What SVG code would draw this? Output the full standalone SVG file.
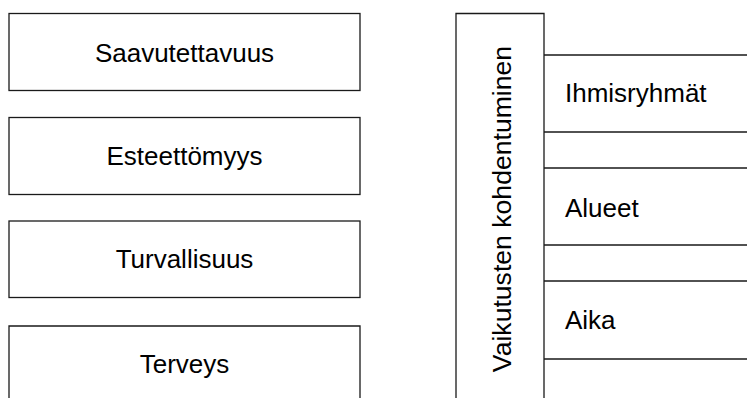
<svg xmlns="http://www.w3.org/2000/svg" width="747" height="398" viewBox="0 0 747 398">
  <style>
    .box { fill: #fff; stroke: #1a1a1a; stroke-width: 1.3; }
    .line { fill: none; stroke: #1a1a1a; stroke-width: 1.3; }
    .label { font-family: "Liberation Sans", Arial, sans-serif; font-size: 26px; fill: #000; }
    .mid { text-anchor: middle; }
  </style>
  <rect width="747" height="398" fill="#fff"/>

  <!-- left column of boxes -->
  <g id="saavutettavuus">
    <rect class="box" x="9" y="13.5" width="351" height="77"/>
    <text class="label mid" x="184.5" y="61.5">Saavutettavuus</text>
  </g>
  <g id="esteettomyys">
    <rect class="box" x="9" y="117.5" width="351" height="77"/>
    <text class="label mid" x="184.5" y="165">Esteettömyys</text>
  </g>
  <g id="turvallisuus">
    <rect class="box" x="9" y="221" width="351" height="76.5"/>
    <text class="label mid" x="184.5" y="268">Turvallisuus</text>
  </g>
  <g id="terveys">
    <path class="line" d="M9,400 V326 H360 V400"/>
    <text class="label mid" x="184.5" y="373">Terveys</text>
  </g>

  <!-- right side: vertical heading column -->
  <g id="kohdentuminen">
    <path class="line" d="M456,400 V13.5 H544 V400"/>
    <text class="label mid" style="font-size:26.6px" transform="translate(511,209) rotate(-90)">Vaikutusten kohdentuminen</text>
  </g>

  <!-- row separators -->
  <g id="connectors">
    <path class="line" d="M544,55 H747 M544,132 H747 M544,168 H747 M544,245 H747 M544,281 H747 M544,359 H747"/>
  </g>

  <g id="ihmisryhmat">
    <text class="label" x="565" y="102">Ihmisryhmät</text>
  </g>
  <g id="alueet">
    <text class="label" x="565" y="216.5">Alueet</text>
  </g>
  <g id="aika">
    <text class="label" x="565" y="328.5">Aika</text>
  </g>
</svg>
